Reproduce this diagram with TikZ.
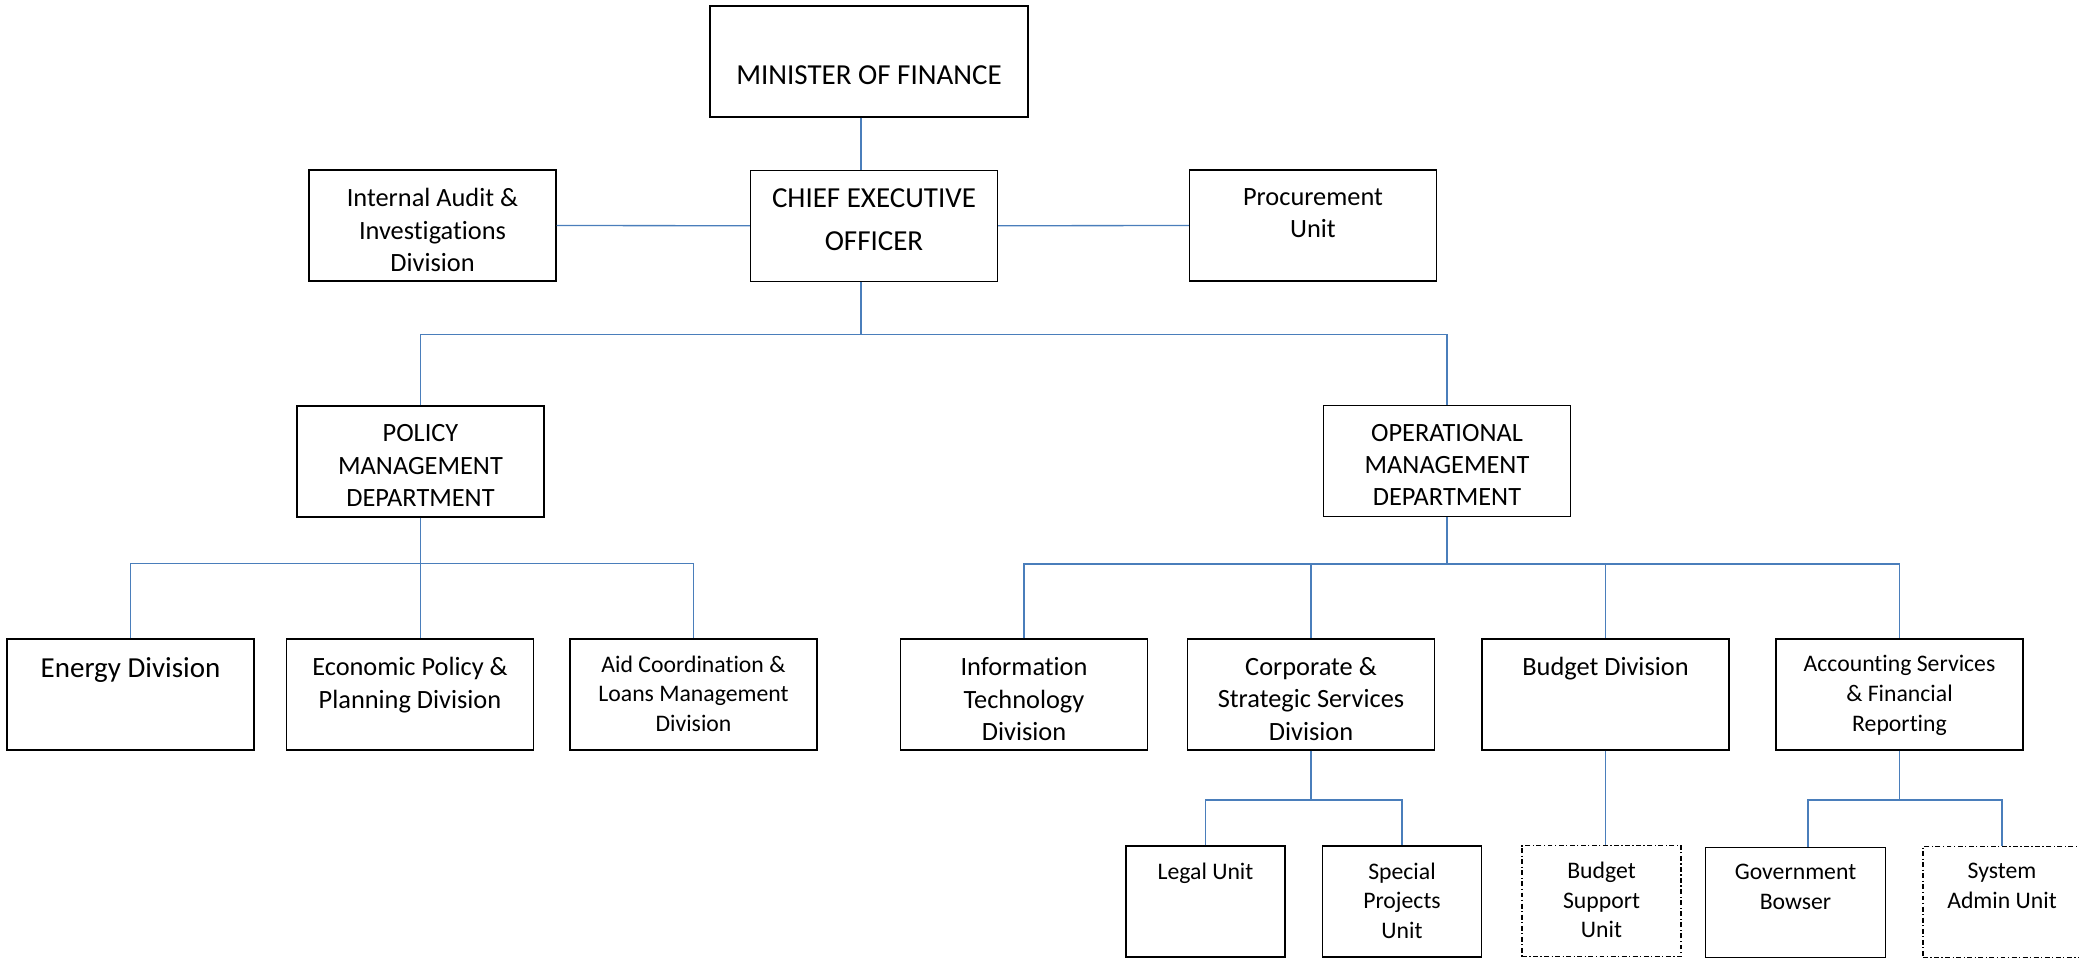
\documentclass[tikz,border=0pt]{standalone}
\usepackage{fontspec}
\setmainfont{Carlito}[Ligatures=NoCommon]
\usepackage{tikz}
\definecolor{linkblue}{RGB}{74,126,187}
\newcommand{\unitbig}{\fontsize{16.5}{24.4}\selectfont}
\newcommand{\unitnorm}{\fontsize{15}{18.4}\selectfont}
\newcommand{\unitsmall}{\fontsize{13.5}{16.8}\selectfont}

\begin{document}
\begin{tikzpicture}
\tikzstyle{every node}+=[inner sep=0pt]
\tikzstyle{unit}=[draw=black, line width=0.8pt, minimum width=4.94cm, minimum height=2.22cm]
\tikzstyle{subunit}=[unit, minimum width=3.18cm]
\tikzstyle{vacant}=[subunit, line width=0.6pt, dash pattern=on 2.8pt off 1.4pt on 0.7pt off 1.4pt]
\tikzstyle{link}=[draw=linkblue, line width=0.75pt]
\tikzstyle{txt}=[anchor=north, yshift=-0.38cm, align=center, font=\unitnorm, inner sep=0pt]
\tikzstyle{txtbig}=[txt, font=\unitbig]
\tikzstyle{txtsmall}=[txt, yshift=0.04cm, font=\unitsmall]
\useasboundingbox (0,0) rectangle (41.58,-19.16);
\node [unit, minimum width=6.36cm, label={[txtbig, yshift=-0.82cm]north:MINISTER OF FINANCE}] (min) at (17.38,-1.23) {};
\node [unit, label={[txtbig]north:{CHIEF EXECUTIVE\\OFFICER}}] (ceo) at (17.48,-4.515) {};
\node [unit, label={[txt]north:{Internal Audit \&\\Investigations\\Division}}] (audit) at (8.65,-4.51) {};
\node [unit, label={[txt]north:{Procurement\\Unit}}] (proc) at (26.26,-4.51) {};
\node [unit, label={[txt]north:{POLICY\\MANAGEMENT\\DEPARTMENT}}] (policy) at (8.41,-9.23) {};
\node [unit, label={[txt]north:{OPERATIONAL\\MANAGEMENT\\DEPARTMENT}}] (ops) at (28.94,-9.22) {};
\node [unit, label={[txtbig]north:Energy Division}] (energy) at (2.61,-13.89) {};
\node [unit, label={[txt]north:{Economic Policy \&\\Planning Division}}] (econ) at (8.20,-13.89) {};
\node [unit, label={[txtsmall]north:{Aid Coordination \&\\Loans Management\\Division}}] (aid) at (13.87,-13.89) {};
\node [unit, label={[txt]north:{Information\\Technology\\Division}}] (it) at (20.48,-13.89) {};
\node [unit, label={[txt]north:{Corporate \&\\Strategic Services\\Division}}] (corp) at (26.22,-13.89) {};
\node [unit, label={[txt]north:Budget Division}] (budget) at (32.11,-13.89) {};
\node [unit, label={[txtsmall]north:{Accounting Services\\\& Financial\\Reporting}}] (acct) at (37.99,-13.89) {};
\node [subunit, label={[txtsmall]north:Legal Unit}] (legal) at (24.11,-18.03) {};
\node [subunit, label={[txtsmall]north:{Special\\Projects\\Unit}}] (special) at (28.04,-18.03) {};
\node [vacant, label={[txtsmall]north:{Budget\\Support\\Unit}}] (bsup) at (32.03,-18.02) {};
\node [subunit, minimum width=3.6cm, minimum height=2.2cm, label={[txtsmall]north:{Government\\Bowser}}] (gov) at (35.91,-18.05) {};
\node [vacant, minimum width=3.16cm, label={[txtsmall]north:{System\\Admin Unit}}] (sysadm) at (40.04,-18.04) {};
\coordinate (spine) at (17.22,0);
\coordinate (topbus) at (0,-6.69);
\coordinate (pbus) at (0,-11.27);
\coordinate (obus) at (0,-11.28);
\coordinate (cbus) at (0,-16.0);
\draw [link] (min.south -| spine) -- (ceo.north -| spine);
\draw [link] (audit.east) -- (ceo.west);
\draw [link] (ceo.east) -- (proc.west);
\draw [link] (ceo.south -| spine) -- (spine |- topbus);
\draw [link] (policy.north) -- (policy.north |- topbus) -- (ops.north |- topbus) -- (ops.north);
\draw [link] (policy.south) -- (policy.south |- pbus);
\draw [link] (energy.north) -- (energy.north |- pbus) -- (aid.north |- pbus) -- (aid.north);
\draw [link] (policy.south |- pbus) -- (policy.south |- econ.north);
\draw [link] (ops.south) -- (ops.south |- obus);
\draw [link] (it.north) -- (it.north |- obus) -- (acct.north |- obus) -- (acct.north);
\draw [link] (corp.north |- obus) -- (corp.north);
\draw [link] (budget.north |- obus) -- (budget.north);
\draw [link] (corp.south) -- (corp.south |- cbus);
\draw [link] (legal.north) -- (legal.north |- cbus) -- (special.north |- cbus) -- (special.north);
\draw [link] (budget.south) -- (budget.south |- bsup.north);
\draw [link] (acct.south) -- (acct.south |- cbus);
\draw [link] ([xshift=0.25cm]gov.north) -- ([xshift=0.25cm]gov.north |- cbus) -- (sysadm.north |- cbus) -- (sysadm.north);
\end{tikzpicture}
\end{document}
